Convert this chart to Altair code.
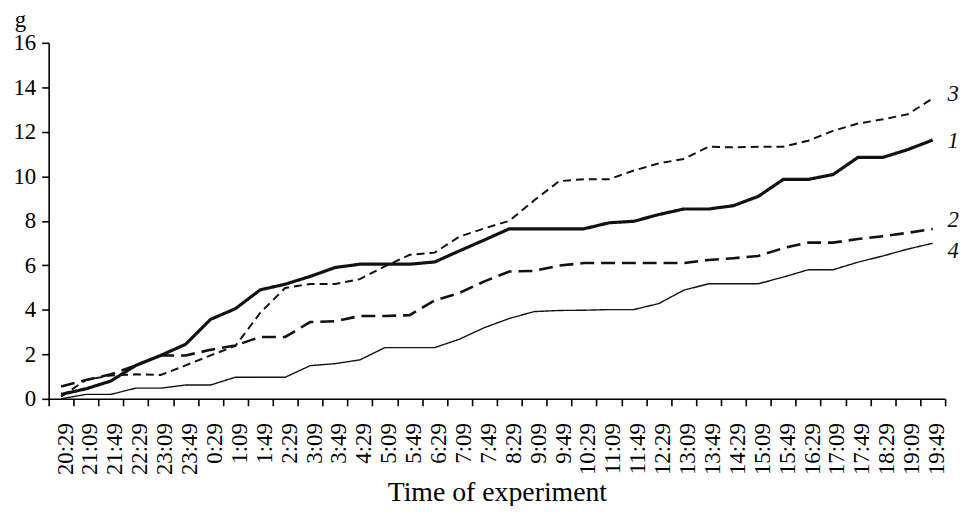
import altair as alt
import pandas as pd

times = ["20:29", "21:09", "21:49", "22:29", "23:09", "23:49", "0:29", "1:09", "1:49",
         "2:29", "3:09", "3:49", "4:29", "5:09", "5:49", "6:29", "7:09", "7:49", "8:29",
         "9:09", "9:49", "10:29", "11:09", "11:49", "12:29", "13:09", "13:49", "14:29",
         "15:09", "15:49", "16:29", "17:09", "17:49", "18:29", "19:09", "19:49"]

s1 = [0.2, 0.45, 0.8, 1.5, 1.95, 2.45, 3.57, 4.05, 4.9, 5.15, 5.5, 5.9, 6.05, 6.05, 6.05,
      6.15, 6.65, 7.14, 7.64, 7.64, 7.64, 7.64, 7.91, 7.98, 8.28, 8.53, 8.53, 8.68, 9.1,
      9.86, 9.86, 10.08, 10.85, 10.85, 11.2, 11.63]
s2 = [0.55, 0.85, 1.1, 1.5, 1.95, 1.95, 2.2, 2.4, 2.78, 2.78, 3.45, 3.49, 3.72, 3.72, 3.76,
      4.42, 4.76, 5.28, 5.72, 5.75, 5.99, 6.1, 6.1, 6.1, 6.1, 6.1, 6.24, 6.32, 6.42, 6.77,
      7.02, 7.02, 7.18, 7.31, 7.46, 7.63]
s3 = [0.1, 0.85, 1.05, 1.1, 1.07, 1.5, 1.95, 2.38, 3.87, 4.98, 5.16, 5.16, 5.38, 5.95, 6.47,
      6.57, 7.29, 7.66, 8.0, 8.92, 9.78, 9.87, 9.87, 10.26, 10.58, 10.78, 11.33, 11.3, 11.33,
      11.33, 11.6, 12.04, 12.37, 12.56, 12.79, 13.5]
s4 = [0.0, 0.2, 0.2, 0.48, 0.48, 0.62, 0.62, 0.97, 0.97, 0.97, 1.49, 1.58, 1.75, 2.3, 2.3,
      2.3, 2.68, 3.2, 3.61, 3.92, 3.97, 3.98, 4.01, 4.01, 4.28, 4.88, 5.17, 5.17, 5.17, 5.47,
      5.8, 5.8, 6.14, 6.42, 6.73, 6.99]

series_names = ["1", "2", "3", "4"]
label_values = [11.6, 8.05, 13.69, 6.65]

rows = []
for name, vals in zip(series_names, [s1, s2, s3, s4]):
    for t, v in zip(times, vals):
        rows.append({"time": t, "value": v, "series": name})
df = pd.DataFrame(rows)

lab = pd.DataFrame({"time": [times[-1]] * 4, "value": label_values, "series": series_names})

FONT = "Liberation Serif"

x_enc = alt.X("time:O", sort=times,
              scale=alt.Scale(type="band", domain=times, paddingInner=0, paddingOuter=0),
              axis=alt.Axis(title="Time of experiment", labelAngle=270, labelFontSize=23,
                            labelFont=FONT, labelPadding=17, labelOffset=4, tickBand="extent",
                            tickSize=7, titleFontSize=28, titleFont=FONT, titleFontWeight="normal",
                            titleY=103, titleBaseline="alphabetic"))
y_enc = alt.Y("value:Q", scale=alt.Scale(domain=[0, 16], nice=False),
              axis=alt.Axis(title="g", values=list(range(0, 17, 2)), labelFontSize=23,
                            labelFont=FONT, labelPadding=6, tickSize=7, titleAngle=0,
                            titleX=-29, titleY=-16, titleAlign="center",
                            titleBaseline="alphabetic", titleFontSize=23, titleFont=FONT,
                            titleFontWeight="normal", grid=False))

lines = alt.Chart(df).mark_line(color="#111111").encode(
    x=x_enc,
    y=y_enc,
    detail="series:N",
    strokeDash=alt.StrokeDash("series:N", legend=None,
                              scale=alt.Scale(domain=series_names,
                                              range=[[1, 0], [14, 7], [8, 5], [1, 0]])),
    strokeWidth=alt.StrokeWidth("series:N", legend=None,
                                scale=alt.Scale(domain=series_names,
                                                range=[3.2, 1.4, 1.5, 1.5])),
)

labels = alt.Chart(lab).mark_text(align="left", baseline="middle", dx=15, fontSize=23,
                                  font=FONT, fontStyle="italic", color="#111111").encode(
    x=alt.X("time:O", sort=times),
    y=alt.Y("value:Q"),
    text="series:N",
)

chart = alt.layer(lines, labels).properties(
    width=904, height=359,
    autosize=alt.AutoSizeParams(type="none"),
    padding={"left": 41, "top": 33, "right": 14, "bottom": 106},
).configure_view(stroke=None).configure_axis(
    domainColor="black", domainWidth=1.6, tickColor="black", tickWidth=1.6,
    labelColor="black", titleColor="black", grid=False
)

chart.save("out.html", embed_options={"renderer": "svg", "actions": False})
